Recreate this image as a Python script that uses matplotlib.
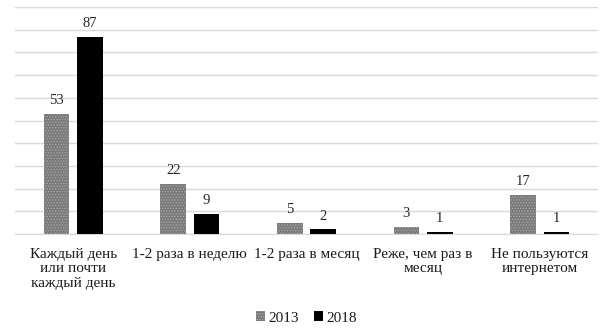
import matplotlib
matplotlib.use("Agg")
import matplotlib.pyplot as plt
import numpy as np

categories = ["Каждый день\nили почти\nкаждый день", "1-2 раза в неделю", "1-2 раза в месяц",
              "Реже, чем раз в\nмесяц", "Не пользуются\nинтернетом"]
series_names = ["2013", "2018"]
v2013 = [53, 22, 5, 3, 17]
v2018 = [87, 9, 2, 1, 1]

plt.rcParams['font.family'] = ['Liberation Serif', 'DejaVu Serif']
plt.rcParams['hatch.linewidth'] = 0.6
plt.rcParams['hatch.color'] = '#a8a8a8'

fig = plt.figure(figsize=(6.13, 3.28), dpi=100)
ax = fig.add_axes([15/613, 1-234/328, (598-15)/613, (234-7)/328])

x = np.arange(len(categories))
w = 0.22
off = 0.143
b1 = ax.bar(x - off, v2013, w, color='#7a7a7a', linewidth=0, hatch='......', label=series_names[0], zorder=3)
b2 = ax.bar(x + off, v2018, w, color='black', label=series_names[1], zorder=3)
for bars, vals in ((b1, v2013), (b2, v2018)):
    for r, v in zip(bars, vals):
        ax.annotate(str(v), (r.get_x() + r.get_width()/2, v), xytext=(0, 5), textcoords='offset points',
                    ha='center', va='bottom', fontsize=10.5, color='#262626')

ax.set_xlim(-0.5, len(categories) - 0.5)
ax.set_ylim(0, 100)
ax.set_yticks(np.arange(0, 101, 10))
ax.yaxis.grid(True, color='#d9d9d9', linewidth=1)
ax.set_axisbelow(True)
ax.tick_params(axis='y', left=False, labelleft=False)
ax.tick_params(axis='x', length=0, pad=10, labelsize=11, labelcolor='#1a1a1a')
ax.set_xticks(x)
ax.set_xticklabels(categories, linespacing=1.15, va='top')
for s in ['top', 'right', 'left']:
    ax.spines[s].set_visible(False)
ax.spines['bottom'].set_color('#d9d9d9')

fig.legend(handles=[b1, b2], labels=series_names, loc='center', bbox_to_anchor=(0.5, 1-318/328),
           ncol=2, frameon=False, fontsize=11, handlelength=0.6, handleheight=0.6,
           handletextpad=0.2, columnspacing=1.0, labelcolor='#1a1a1a')

fig.savefig("out.png", dpi=100)
